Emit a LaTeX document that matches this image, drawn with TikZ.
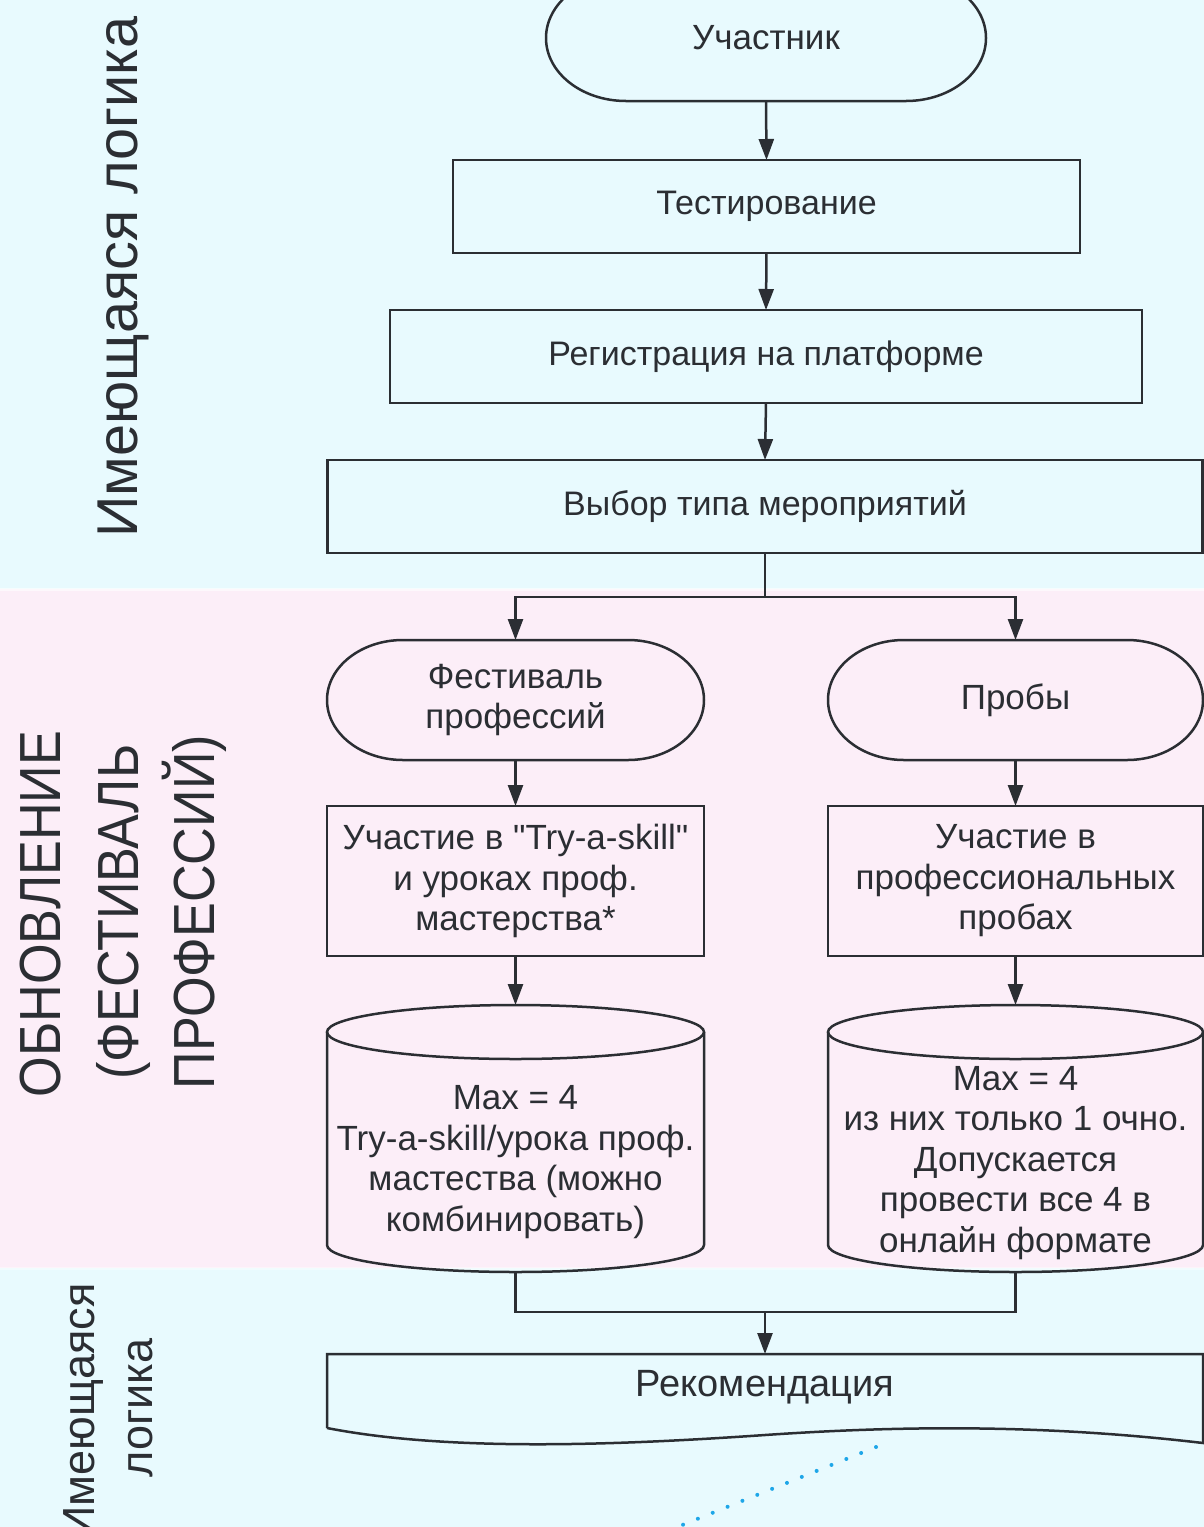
\documentclass[tikz,border=0pt]{standalone}
\usepackage{fontspec}
\setmainfont{Liberation Sans}
\newfontfamily\condfont[FakeStretch=0.9]{Liberation Sans}
\usetikzlibrary{arrows.meta,calc}
\definecolor{bgc}{RGB}{232,250,254}
\definecolor{bgp}{RGB}{252,238,248}
\definecolor{ink}{RGB}{43,46,51}
\definecolor{dotc}{RGB}{30,166,232}
\newcommand{\sq}{{\XeTeXglyph\XeTeXglyphindex "quotedbl"\relax}}
\newcommand{\stadiumpath}[3]{%
  \draw[ln] ($(#1.north west)+(#2,0pt)$) -- ($(#1.north east)+(-#2,0pt)$)
    arc[start angle=90,end angle=-90,x radius=#2,y radius=#3]
    -- ($(#1.south west)+(#2,0pt)$)
    arc[start angle=270,end angle=90,x radius=#2,y radius=#3] -- cycle;}
\newcommand{\cylpath}[3]{%
  \draw[ln] ([yshift=-#3]#1.north) ellipse[x radius=#2,y radius=#3];
  \draw[ln] ([yshift=-#3]#1.north west) -- ([yshift=#3]#1.south west)
    arc[start angle=180,end angle=360,x radius=#2,y radius=#3]
    -- ([yshift=-#3]#1.north east);}
\begin{document}
\begin{tikzpicture}[x=0.5pt,y=-0.5pt,
  ln/.style={draw=ink,line width=1.25pt},
  arr/.style={ln,-{Triangle[length=10.5pt,width=7.5pt]}},
  topbox/.style={rectangle,draw=ink,line width=1.25pt,text=ink,inner sep=0pt,outer sep=0pt,
    font=\fontsize{17}{20}\selectfont},
  pinkbox/.style={rectangle,draw=ink,line width=1.25pt,text=ink,inner sep=0pt,outer sep=0pt,
    align=center,font=\fontsize{17.5}{20.25}\selectfont},
  holder/.style={rectangle,draw=none,inner sep=0pt,outer sep=0pt},
  txt/.style={text=ink,align=center,inner sep=0pt,outer sep=0pt,font=\fontsize{17.5}{20.25}\selectfont},
  sidelbl/.style={rotate=90,anchor=base,text=ink,inner sep=0pt,outer sep=0pt}]
\useasboundingbox (0,0) rectangle (1204,1527);
\clip (0,0) rectangle (1204,1527);
% bands
\fill[bgc] (0,0) rectangle (1204,589);
\fill[bgp] (0,589) rectangle (1204,1268);
\fill[bgc] (0,1268) rectangle (1204,1527);
\fill[white,opacity=0.6] (0,588) rectangle (1204,590.5);
\fill[white,opacity=0.4] (0,1267) rectangle (1204,1270);

% side labels
\node[sidelbl,font=\fontsize{28.8}{35}\selectfont] (lblA) at (137,277) {Имеющаяся логика};
\node[sidelbl,font=\condfont\fontsize{29}{35}\selectfont] (upd1) at (61,914) {ОБНОВЛЕНИЕ};
\node[sidelbl,font=\condfont\fontsize{29}{35}\selectfont] (upd2) at (138,912) {(ФЕСТИВАЛЬ};
\node[sidelbl,font=\condfont\fontsize{29}{35}\selectfont] (upd3) at (214,912) {ПРОФЕССИЙ)};
\node[sidelbl,font=\fontsize{22.5}{27}\selectfont] (lblB1) at (94,1411) {Имеющаяся};
\node[sidelbl,font=\fontsize{22.5}{27}\selectfont] (lblB2) at (152,1408) {логика};

% top chain
\node[holder,text=ink,font=\fontsize{17.5}{20}\selectfont,minimum width=220pt,minimum height=63pt] (start) at (766,38) {Участник};
\stadiumpath{start}{40pt}{31.5pt}
\node[topbox,minimum width=313.5pt,minimum height=46.5pt] (test) at (766.5,206.5) {Тестирование};
\node[topbox,minimum width=376pt,minimum height=46.5pt] (reg) at (766,356.5) {Регистрация на платформе};
\node[topbox,minimum width=437.5pt,minimum height=46.5pt] (choice) at (765,506.5) {Выбор типа мероприятий};

% pink section
\node[holder,txt,minimum width=188.5pt,minimum height=60pt] (fest) at (515.5,700) {Фестиваль\\профессий};
\stadiumpath{fest}{38pt}{30pt}
\node[holder,txt,minimum width=187.5pt,minimum height=60pt] (prob) at (1015.5,700) {Пробы};
\stadiumpath{prob}{38pt}{30pt}
\node[pinkbox,minimum width=188.5pt,minimum height=75pt] (tryb) at (515.5,881) {Участие в \sq Try-a-skill\sq\\и уроках проф.\\мастерства*};
\node[pinkbox,minimum width=187.5pt,minimum height=75pt] (probb) at (1015.5,881) {Участие в\\профессиональных\\пробах};

\node[holder,minimum width=188.5pt,minimum height=133.5pt] (cylL) at (515.5,1138.5) {};
\cylpath{cylL}{94.25pt}{13.5pt}
\node[txt] (cylLt) at (515.5,1162) {Max = 4\\Try-a-skill/урока проф.\\мастества (можно\\комбинировать)};
\node[holder,minimum width=187.5pt,minimum height=133.5pt] (cylR) at (1015.5,1138.5) {};
\cylpath{cylR}{93.75pt}{13.5pt}
\node[txt] (cylRt) at (1015.5,1163) {Max = 4\\из них только 1 очно.\\Допускается\\провести все 4 в\\онлайн формате};

% bottom document
\node[holder,text=ink,font=\fontsize{19}{22}\selectfont,minimum width=438pt,minimum height=33pt] (rec) at (765,1387) {Рекомендация};
\draw[ln] (327,1428) -- (327,1354) -- (1203,1354) -- (1203,1443)
  .. controls (1050,1425) and (910,1425) .. (765,1435)
  .. controls (620,1445) and (450,1452) .. (327,1428);

% dotted fragment
\coordinate (dotA) at (876,1447);
\coordinate (dotB) at (650,1538);
\draw[dotc,line width=2pt,line cap=round,dash pattern=on 0pt off 8pt] (dotA) -- (dotB);

% connectors
\draw[arr] (start.south) -- (test.north);
\draw[arr] (test.south) -- (reg.north);
\draw[arr] (reg.south) -- (choice.north);
\coordinate (split) at (765,597);
\draw[ln] (choice.south) -- (split);
\draw[arr] (split) -| (fest.north);
\draw[arr] (split) -| (prob.north);
\draw[arr] (fest.south) -- (tryb.north);
\draw[arr] (prob.south) -- (probb.north);
\draw[arr] (tryb.south) -- (cylL.north);
\draw[arr] (probb.south) -- (cylR.north);
\coordinate (merge) at (765,1312);
\draw[ln] (cylL.south) |- (merge) -| (cylR.south);
\draw[arr] (merge) -- (rec.north);
\end{tikzpicture}
\end{document}
